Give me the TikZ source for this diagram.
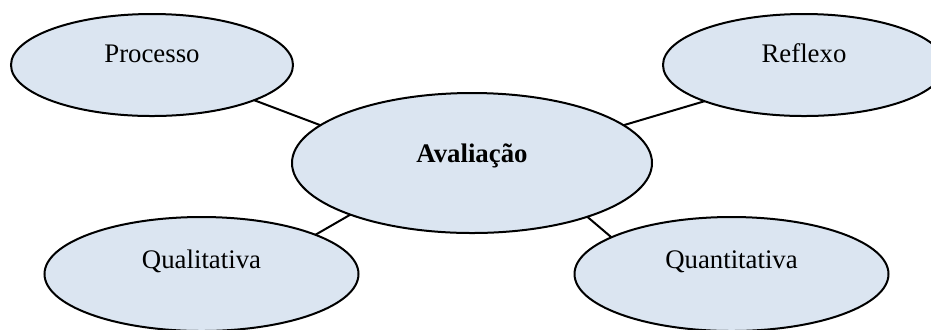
\documentclass[tikz,border=0pt]{standalone}
\usepackage{fontspec}
\setmainfont{Liberation Serif}
\usetikzlibrary{shapes.geometric}

\definecolor{bubblefill}{RGB}{219,229,241}
\tikzstyle{bubble} = [draw=black,fill=bubblefill,ellipse,line width=1pt,inner sep=0pt,outer sep=0pt]
\tikzstyle{word} = [anchor=base,font=\fontsize{13.4}{16}\selectfont,inner sep=0pt]
\tikzstyle{link} = [line width=1pt]

\begin{document}
\begin{tikzpicture}[x=0.5pt,y=-0.5pt]
	\useasboundingbox (0,0) rectangle (931,329);
	\node (aval) [bubble,minimum width=180pt,minimum height=70pt] at (472,163) {};
	\node (proc) [bubble,minimum width=141pt,minimum height=51pt] at (152,65) {};
	\node (refl) [bubble,minimum width=141pt,minimum height=51pt] at (804,65) {};
	\node (qual) [bubble,minimum width=157pt,minimum height=57pt] at (201.5,274) {};
	\node (quan) [bubble,minimum width=157pt,minimum height=57pt] at (731.5,274) {};
	\node (aval-text) [word,font=\fontsize{13.4}{16}\selectfont\bfseries] at ([yshift=0.5pt]aval.center) {Avaliação};
	\node (proc-text) [word] at ([yshift=1.5pt]proc.center) {Processo};
	\node (refl-text) [word] at ([yshift=1.5pt]refl.center) {Reflexo};
	\node (qual-text) [word] at ([yshift=3pt]qual.center) {Qualitativa};
	\node (quan-text) [word] at ([yshift=3pt]quan.center) {Quantitativa};
	\draw [link] (proc.-19) -- (aval.166);
	\draw [link] (refl.-160) -- (aval.14);
	\draw [link] (qual.19) -- (aval.-157);
	\draw [link] (quan.163) -- (aval.-25);
\end{tikzpicture}
\end{document}
